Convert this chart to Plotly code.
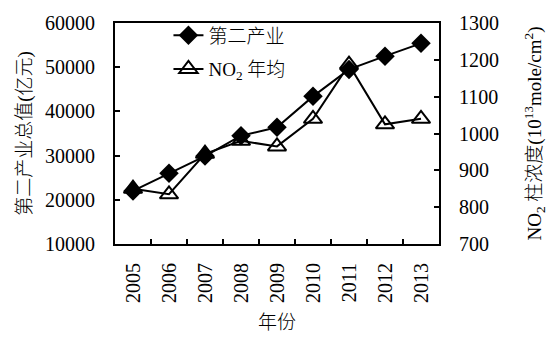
import plotly.graph_objects as go

years = ["2005", "2006", "2007", "2008", "2009", "2010", "2011", "2012", "2013"]
industry_output = [22000, 26000, 29900, 34500, 36400, 43400, 49500, 52500, 55400]  # 亿元
no2_column = [850, 835, 945, 980, 965, 1040, 1187, 1025, 1040]  # 10^13 mole/cm^2

FONT = "Liberation Serif, Times New Roman, Noto Sans CJK SC"
TITLE_FONT = dict(size=19, weight=300, color="black")

fig = go.Figure()
fig.add_trace(go.Scatter(
    x=years, y=industry_output, name="第二产业", legendgroup="a",
    mode="lines+markers",
    line=dict(color="black", width=2),
    marker=dict(symbol="diamond", size=15, color="black"),
))
fig.add_trace(go.Scatter(
    x=years, y=no2_column, name="NO<sub>2</sub> 年均", legendgroup="b",
    yaxis="y2", mode="lines+markers",
    line=dict(color="black", width=2),
    marker=dict(symbol="triangle-up-open", size=16, color="black",
                line=dict(width=2, color="black")),
))

fig.update_layout(
    width=554, height=342,
    margin=dict(l=115, r=88, t=20, b=90),
    paper_bgcolor="white", plot_bgcolor="white",
    font=dict(family=FONT, size=20, color="black"),
    showlegend=True,
    legend=dict(x=0.165, y=1.03, xanchor="left", yanchor="top",
                bgcolor="rgba(0,0,0,0)", font=dict(size=19, weight=300),
                tracegroupgap=6),
    xaxis=dict(
        type="category", range=[-0.5, 8.5],
        showline=True, linecolor="black", linewidth=2, mirror=True,
        ticks="inside", tickson="boundaries", ticklen=5, tickwidth=2,
        tickcolor="black", tickangle=-90, showgrid=False,
        ticklabelstandoff=9,
        title=dict(text="年份", font=TITLE_FONT, standoff=14),
    ),
    yaxis=dict(
        range=[10000, 60000], dtick=10000, tickformat="d",
        showline=True, linecolor="black", linewidth=2,
        ticks="inside", ticklen=5, tickwidth=2, tickcolor="black",
        showgrid=False, zeroline=False, ticklabelstandoff=14,
        title=dict(text="第二产业总值(亿元)", font=TITLE_FONT, standoff=8),
    ),
    yaxis2=dict(
        overlaying="y", side="right",
        range=[700, 1300], dtick=100,
        showline=True, linecolor="black", linewidth=2,
        ticks="inside", ticklen=5, tickwidth=2, tickcolor="black",
        showgrid=False, zeroline=False, ticklabelstandoff=14,
        title=dict(text="NO<sub>2</sub> 柱浓度(10<sup>13</sup>mole/cm<sup>2</sup>)",
                   font=TITLE_FONT, standoff=30),
    ),
)

fig.write_html("out.html")
